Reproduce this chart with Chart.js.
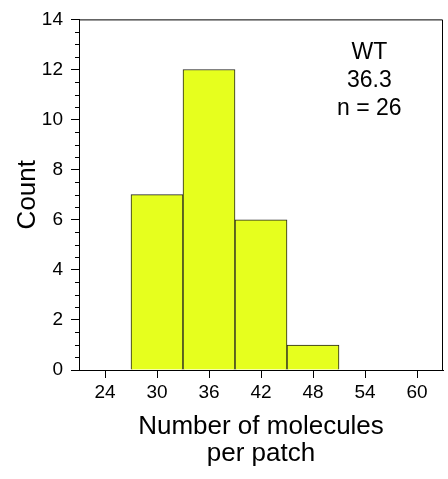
<!DOCTYPE html>
<html>
<head>
<meta charset="utf-8">
<script src="https://cdn.jsdelivr.net/npm/chart.js@4/dist/chart.umd.min.js"></script>
<style>
    html, body { margin: 0; padding: 0; background: #fff; }
</style>
</head>
<body>
<canvas id="HistChart" width="448" height="479"></canvas>
<script>
let binCenters = [30, 36, 42, 48];
let binCounts = [7, 12, 6, 1];
let xTicks = [24, 30, 36, 42, 48, 54, 60];
let noteLines = ['WT', '36.3', 'n = 26'];

const FONT = "'Liberation Sans', Arial, Helvetica, sans-serif";

// minor y ticks, closed frame and the WT note
let framePlugin = {
    id: 'frame',
    afterDraw: function (chart) {
        let ctx = chart.ctx;
        let area = chart.chartArea;
        let y = chart.scales.y;
        let x = chart.scales.x;
        ctx.save();
        ctx.strokeStyle = '#000';
        ctx.lineWidth = 1;
        ctx.beginPath();
        ctx.moveTo(area.left, area.top + 0.5);
        ctx.lineTo(area.right - 0.5, area.top + 0.5);
        ctx.lineTo(area.right - 0.5, area.bottom);
        for (let v = 0.5; v < 14; v += 0.5) {
            if (v % 2 === 0) continue;
            let py = Math.round(y.getPixelForValue(v)) + 0.5;
            ctx.moveTo(area.left - 4, py);
            ctx.lineTo(area.left, py);
        }
        ctx.stroke();

        ctx.fillStyle = '#000';
        ctx.font = '23px ' + FONT;
        ctx.textAlign = 'center';
        ctx.textBaseline = 'alphabetic';
        let noteY = [12.42, 11.3, 10.2];
        for (let i = 0; i < noteLines.length; i++) {
            ctx.fillText(noteLines[i], x.getPixelForValue(54.5), y.getPixelForValue(noteY[i]));
        }
        ctx.restore();
    }
};

let histData = {
    datasets: [{
        data: binCenters.map(function (c, i) { return { x: c, y: binCounts[i] }; }),
        backgroundColor: '#e6ff1e',
        borderColor: '#222',
        borderWidth: 1,
        barPercentage: 1,
        categoryPercentage: 1
    }]
};

new Chart(document.getElementById('HistChart').getContext('2d'), {
    type: 'bar',
    data: histData,
    plugins: [framePlugin],
    options: {
        responsive: false,
        devicePixelRatio: 1,
        animation: false,
        layout: { padding: { top: 13, right: 5, left: 0, bottom: 0 } },
        plugins: { legend: { display: false }, tooltip: { enabled: false } },
        scales: {
            x: {
                type: 'linear',
                min: 21,
                max: 63,
                offset: false,
                afterBuildTicks: function (scale) {
                    scale.ticks = xTicks.map(function (v) { return { value: v }; });
                },
                afterFit: function (scale) { scale.height = 109; },
                grid: { offset: false, drawOnChartArea: false, tickLength: 8, color: '#000' },
                border: { color: '#000', width: 1 },
                ticks: {
                    color: '#000', padding: 3, maxRotation: 0, autoSkip: false,
                    font: { family: FONT, size: 19 }
                },
                title: {
                    display: true,
                    text: ['Number of molecules', 'per patch'],
                    color: '#000',
                    font: { family: FONT, size: 26, lineHeight: 1.02 },
                    padding: { top: 0, bottom: 12 }
                }
            },
            y: {
                min: 0,
                max: 14,
                afterFit: function (scale) { scale.width = 79; },
                grid: { drawOnChartArea: false, tickLength: 8, color: '#000' },
                border: { color: '#000', width: 1 },
                ticks: {
                    stepSize: 2, color: '#000', padding: 8,
                    font: { family: FONT, size: 19 }
                },
                title: {
                    display: true,
                    text: 'Count',
                    color: '#000',
                    font: { family: FONT, size: 26 },
                    padding: { top: 12, bottom: 0 }
                }
            }
        }
    }
});
</script>
</body>
</html>
